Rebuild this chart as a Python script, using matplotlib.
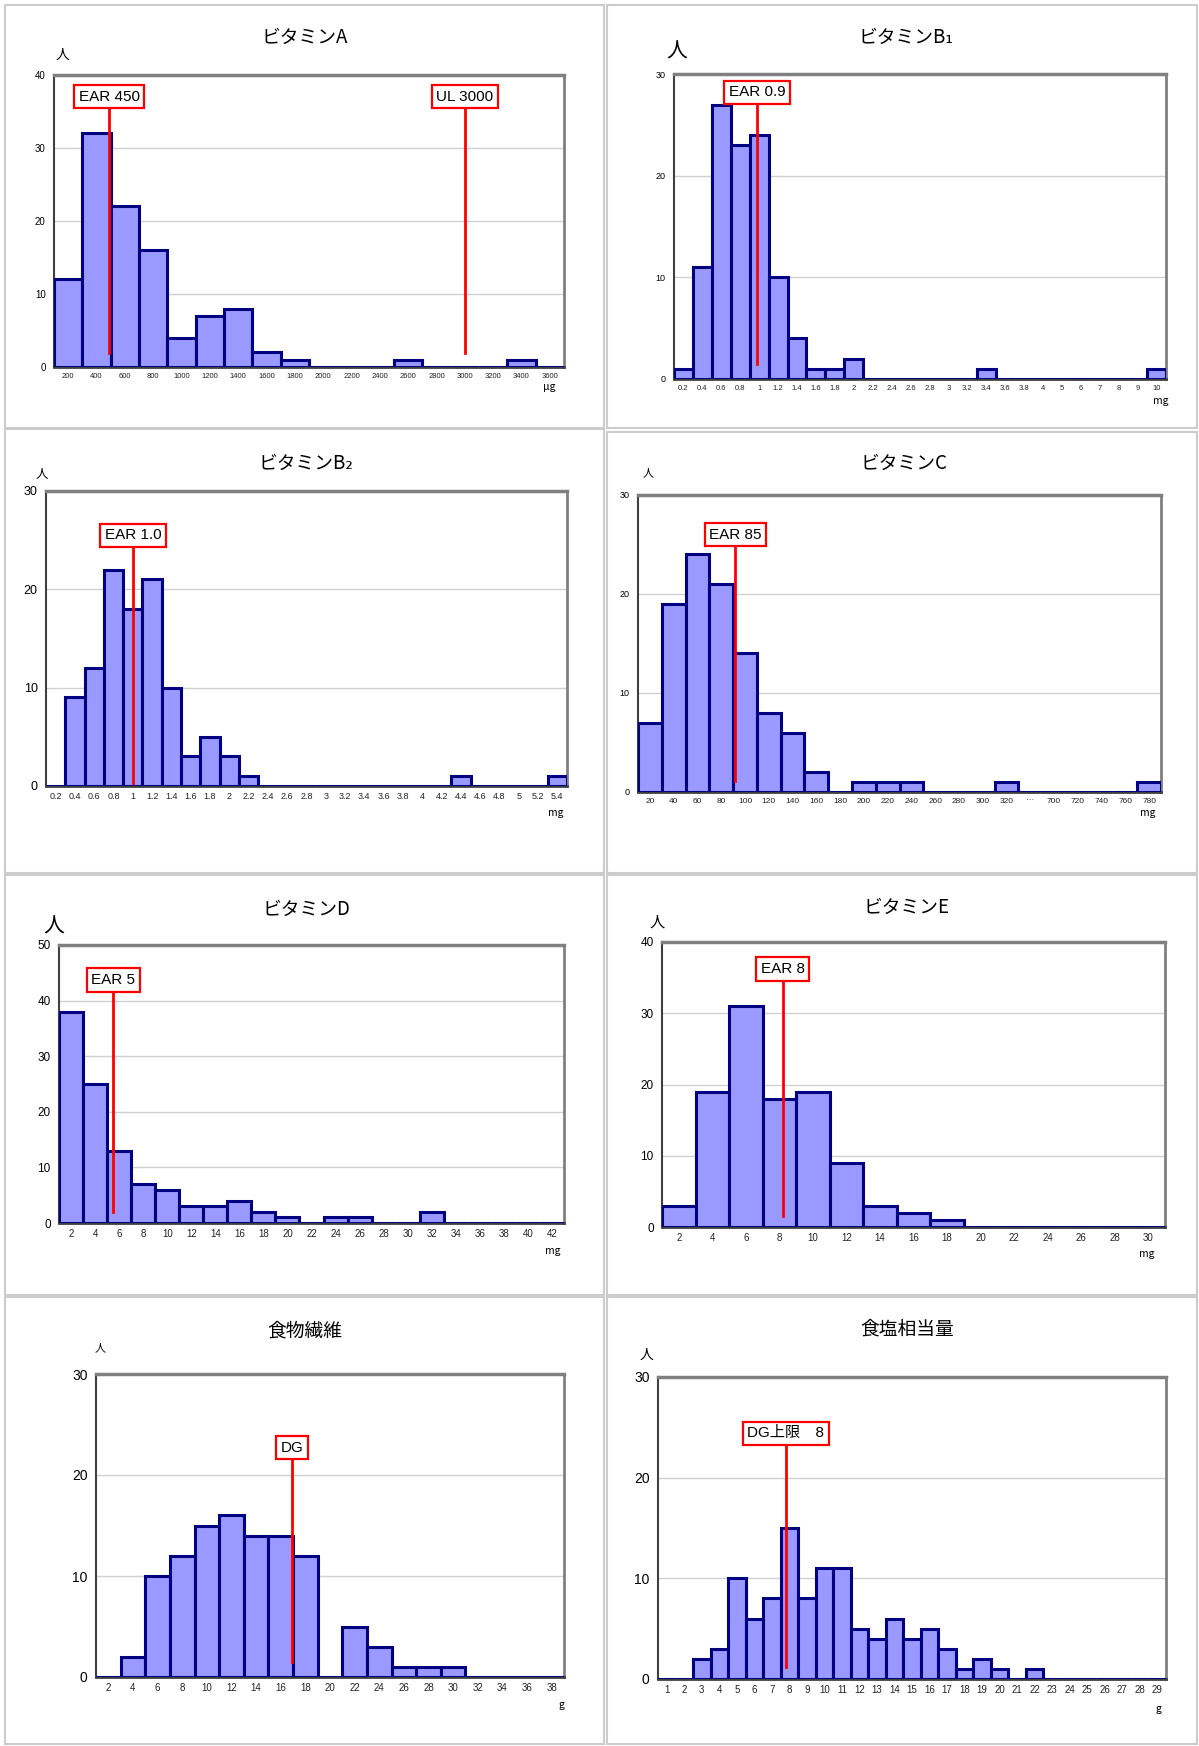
import matplotlib
matplotlib.use("Agg")
import matplotlib.pyplot as plt
from matplotlib.patches import Rectangle

plt.rcParams['font.family'] = ['Liberation Sans', 'Noto Sans CJK JP', 'DejaVu Sans']

W, H = 1199, 1746

# ---- data ----
a_cats = [str(v) for v in range(200, 3601, 200)]
a_vals = [12, 32, 22, 16, 4, 7, 8, 2, 1, 0, 0, 0, 1, 0, 0, 0, 1, 0]

b1_cats = ['0.2', '0.4', '0.6', '0.8', '1', '1.2', '1.4', '1.6', '1.8', '2', '2.2', '2.4',
           '2.6', '2.8', '3', '3.2', '3.4', '3.6', '3.8', '4', '5', '6', '7', '8', '9', '10']
b1_vals = [1, 11, 27, 23, 24, 10, 4, 1, 1, 2, 0, 0, 0, 0, 0, 0, 1, 0, 0, 0, 0, 0, 0, 0, 0, 1]

b2_cats = ['0.2', '0.4', '0.6', '0.8', '1', '1.2', '1.4', '1.6', '1.8', '2', '2.2', '2.4',
           '2.6', '2.8', '3', '3.2', '3.4', '3.6', '3.8', '4', '4.2', '4.4', '4.6', '4.8',
           '5', '5.2', '5.4']
b2_vals = [0, 9, 12, 22, 18, 21, 10, 3, 5, 3, 1, 0, 0, 0, 0, 0, 0, 0, 0, 0, 0, 1, 0, 0, 0, 0, 1]

c_cats = [str(v) for v in range(20, 321, 20)] + ['···', '700', '720', '740', '760', '780']
c_vals = [7, 19, 24, 21, 14, 8, 6, 2, 0, 1, 1, 1, 0, 0, 0, 1, 0, 0, 0, 0, 0, 1]

d_cats = [str(v) for v in range(2, 43, 2)]
d_vals = [38, 25, 13, 7, 6, 3, 3, 4, 2, 1, 0, 1, 1, 0, 0, 2, 0, 0, 0, 0, 0]

e_cats = [str(v) for v in range(2, 31, 2)]
e_vals = [3, 19, 31, 18, 19, 9, 3, 2, 1, 0, 0, 0, 0, 0, 0]

fib_cats = [str(v) for v in range(2, 39, 2)]
fib_vals = [0, 2, 10, 12, 15, 16, 14, 14, 12, 0, 5, 3, 1, 1, 1, 0, 0, 0, 0]

salt_cats = [str(v) for v in range(1, 30)]
salt_vals = [0, 0, 2, 3, 10, 6, 8, 15, 8, 11, 11, 5, 4, 6, 4, 5, 3, 1, 2, 1, 0, 1,
             0, 0, 0, 0, 0, 0, 0]

# reference lines: (label, category position, box y, line bottom)
a_refs = [('EAR 450', 1.45, 37.0, 1.9), ('UL 3000', 14.0, 37.0, 1.9)]
b1_refs = [('EAR 0.9', 3.9, 28.2, 1.5)]
b2_refs = [('EAR 1.0', 4.0, 25.5, 0.3)]
c_refs = [('EAR 85', 3.6, 26.0, 1.1)]
d_refs = [('EAR 5', 1.75, 43.7, 2.0)]
e_refs = [('EAR 8', 3.1, 36.2, 1.5)]
fib_refs = [('DG', 7.45, 22.7, 1.5)]
salt_refs = [('DG上限　8', 6.8, 24.4, 1.2)]

fig = plt.figure(figsize=(W / 100, H / 100), dpi=100)


def px(l, t, r, b):
    return [l / W, 1 - b / H, (r - l) / W, (b - t) / H]


# panel frames
for (l, t, r, b) in [(5, 5, 604, 428), (607, 5, 1197, 428),
                     (5, 429, 604, 873), (607, 432, 1197, 873),
                     (5, 875, 604, 1295), (607, 875, 1197, 1295),
                     (5, 1297, 604, 1744), (607, 1297, 1197, 1744)]:
    fig.patches.append(Rectangle((l / W, 1 - b / H), (r - l) / W, (b - t) / H,
                                 transform=fig.transFigure, fill=False,
                                 edgecolor='#cccccc', lw=1.5))


def panel(rect, cats, vals, ymax, ystep, refs, title, unit, title_xy, person_xy,
          person_fs, unit_xy, xfs=6, yfs=7):
    ax = fig.add_axes(px(*rect))
    x = list(range(len(cats)))
    ax.bar(x, vals, width=1.0, color='#9999ff', edgecolor='#000080', lw=2.2, zorder=3)
    ax.set_xlim(-0.5, len(cats) - 0.5)
    ax.set_ylim(0, ymax)
    ax.set_xticks(x)
    ax.set_xticklabels(cats, fontsize=xfs, color='#222222')
    ax.set_yticks(range(0, ymax + 1, ystep))
    ax.tick_params(length=0, pad=4)
    ax.tick_params(axis='y', labelsize=yfs, pad=6)
    ax.yaxis.grid(True, color='#d0d0d0', lw=1, zorder=0)
    ax.set_axisbelow(True)
    ax.spines['top'].set_color('#808080')
    ax.spines['top'].set_linewidth(2.5)
    ax.spines['right'].set_color('#808080')
    ax.spines['right'].set_linewidth(2)
    ax.spines['left'].set_color('#404040')
    ax.spines['left'].set_linewidth(1.5)
    ax.spines['bottom'].set_color('#404040')
    ax.spines['bottom'].set_linewidth(2)
    for label, pos, ybox, ybot in refs:
        ax.plot([pos, pos], [ybot, ybox], color='red', lw=2, zorder=5)
        ax.text(pos, ybox, label, ha='center', va='center', fontsize=11, zorder=6,
                bbox=dict(boxstyle='square,pad=0.3', fc='white', ec='red', lw=1.6))
    fig.text(title_xy[0] / W, 1 - title_xy[1] / H, title, ha='center', va='center',
             fontsize=13.5, family=['Noto Sans CJK JP', 'DejaVu Sans'])
    fig.text(person_xy[0] / W, 1 - person_xy[1] / H, '人', ha='center', va='center',
             fontsize=person_fs, family=['Noto Sans CJK JP', 'DejaVu Sans'])
    fig.text(unit_xy[0] / W, 1 - unit_xy[1] / H, unit, ha='center', va='center',
             fontsize=7.5, family=['Noto Sans CJK JP', 'DejaVu Sans'])
    return ax


panel((54, 75, 564, 367), a_cats, a_vals, 40, 10, a_refs, 'ビタミンA', 'μg',
      (305, 37), (63, 55), 10, (549, 387), xfs=5.5, yfs=7)
panel((674, 74, 1166, 379), b1_cats, b1_vals, 30, 10, b1_refs, 'ビタミンB₁', 'mg',
      (906, 37), (677, 52), 15, (1161, 401), xfs=5.5, yfs=6.5)
panel((46, 491, 567, 786), b2_cats, b2_vals, 30, 10, b2_refs, 'ビタミンB₂', 'mg',
      (306, 463), (42, 475), 9, (556, 813), xfs=6.5, yfs=9)
panel((638, 495, 1161, 792), c_cats, c_vals, 30, 10, c_refs, 'ビタミンC', 'mg',
      (904, 463), (648, 473), 8, (1148, 813), xfs=6, yfs=6.5)
panel((59, 945, 564, 1223), d_cats, d_vals, 50, 10, d_refs, 'ビタミンD', 'mg',
      (306, 909), (54, 927), 15, (553, 1251), xfs=7, yfs=8.5)
panel((662, 942, 1165, 1227), e_cats, e_vals, 40, 10, e_refs, 'ビタミンE', 'mg',
      (907, 907), (657, 922), 11, (1147, 1254), xfs=7, yfs=8.5)
panel((96, 1374, 564, 1677), fib_cats, fib_vals, 30, 10, fib_refs, '食物繊維', 'g',
      (305, 1331), (100, 1348), 8, (561, 1705), xfs=7, yfs=10)
panel((658, 1377, 1166, 1679), salt_cats, salt_vals, 30, 10, salt_refs, '食塩相当量', 'g',
      (907, 1329), (647, 1355), 10, (1158, 1709), xfs=7, yfs=10)

plt.savefig('out.png', dpi=100)
